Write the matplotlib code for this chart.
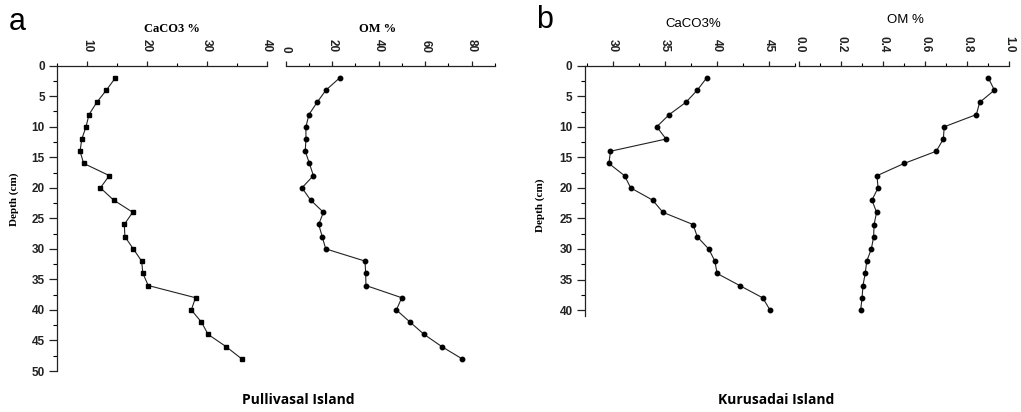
import numpy as np
import matplotlib
matplotlib.use("Agg")
import matplotlib.pyplot as plt
from matplotlib.ticker import MultipleLocator

# depth profiles
depth_a=[2,4,6,8,10,12,14,16,18,20,22,24,26,28,30,32,34,36,38,40,42,44,46,48]
caco3_a=[14.7,13.2,11.6,10.3,9.8,9.1,8.8,9.4,13.7,12.2,14.4,17.6,16.2,16.3,17.7,19.1,19.3,20.2,28.1,27.4,29.1,30.2,33.2,35.8]
om_a=[23.2,17.3,13.5,10.0,8.7,8.7,8.4,10.2,11.9,7.0,10.7,16.2,14.2,15.7,17.2,34.1,34.4,34.5,49.9,47.6,53.5,59.5,67.1,75.8]

depth_b=[2,4,6,8,10,12,14,16,18,20,22,24,26,28,30,32,34,36,38,40]
caco3_b=[39.0,38.1,37.0,35.4,34.2,35.1,29.75,29.6,31.1,31.7,33.8,34.8,37.7,38.1,39.2,39.8,40.0,42.2,44.4,45.1]
om_b=[0.90,0.929,0.859,0.843,0.690,0.686,0.652,0.499,0.370,0.375,0.346,0.368,0.356,0.354,0.343,0.321,0.314,0.303,0.299,0.292]

W,H=1021,412
fig=plt.figure(figsize=(W/100,H/100),dpi=100)
INK="#222222"

def px_axes(x0,x1,y0,y1):
    # pixel box -> figure fraction
    return fig.add_axes([x0/W,1-y1/H,(x1-x0)/W,(y1-y0)/H])

def profile(ax,x,y,xlim,ylim,xmaj,xmin,marker,show_y,fmt=None):
    ax.plot(x,y,color=INK,lw=0.8,marker=marker,ms=3.2,mfc="black",mec="black")
    ax.set_xlim(*xlim)
    ax.set_ylim(ylim,0)
    ax.xaxis.tick_top()
    ax.xaxis.set_major_locator(MultipleLocator(xmaj))
    ax.xaxis.set_minor_locator(MultipleLocator(xmin))
    if fmt:
        ax.xaxis.set_major_formatter(matplotlib.ticker.FormatStrFormatter(fmt))
    ax.tick_params(axis="x",which="major",direction="out",length=3.5,width=0.9,pad=6,
                   labelrotation=-90,labelsize=8.5,colors=INK)
    ax.tick_params(axis="x",which="minor",direction="out",length=2,width=0.8)
    for s in ["right","bottom"]:
        ax.spines[s].set_visible(False)
    ax.spines["top"].set_color(INK)
    ax.spines["top"].set_linewidth(0.9)
    for lab in ax.get_xticklabels():
        lab.set_fontfamily("Liberation Sans")
        lab.set_fontweight("bold")
    if show_y:
        ax.spines["left"].set_color(INK)
        ax.spines["left"].set_linewidth(0.9)
        ax.yaxis.set_major_locator(MultipleLocator(5))
        ax.yaxis.set_minor_locator(MultipleLocator(2.5))
        ax.tick_params(axis="y",which="major",direction="out",length=6,width=0.9,pad=3,
                       labelsize=8.5,colors=INK)
        ax.tick_params(axis="y",which="minor",direction="out",length=3,width=0.8)
        for lab in ax.get_yticklabels():
            lab.set_fontfamily("Liberation Sans")
            lab.set_fontweight("bold")
    else:
        ax.spines["left"].set_visible(False)
        ax.tick_params(axis="y",which="both",left=False,labelleft=False)
    ax.patch.set_alpha(0)

# panel a
ax1=px_axes(57.3,266.7,65.7,371)
profile(ax1,caco3_a,depth_a,(5,40),50,10,5,"s",True)
ax2=px_axes(285.7,495,65.7,371)
profile(ax2,om_a,depth_a,(0,90),50,20,10,"o",False)

# panel b
ax3=px_axes(585,795,65.7,316.2)
profile(ax3,caco3_b,depth_b,(27.3,47.5),41,5,2.5,"o",True)
ax4=px_axes(799.3,1009.3,65.7,316.2)
profile(ax4,om_b,depth_b,(0,1.0),41,0.2,0.1,"o",False,fmt="%.1f")

def txt(x,y,s,**kw):
    fig.text(x/W,1-y/H,s,ha="center",va="center",**kw)

txt(17,22,"a",fontsize=22,family="Liberation Sans")
txt(545,20,"b",fontsize=22,family="Liberation Sans")

txt(172,29,"CaCO3 %",fontsize=9,fontweight="bold",family="Liberation Serif")
txt(378,29,"OM %",fontsize=9,fontweight="bold",family="Liberation Serif")
txt(693,24,"CaCO3%",fontsize=9.5,family="Liberation Sans")
txt(905,20,"OM %",fontsize=9.5,family="Liberation Sans")

txt(14,199,"Depth (cm)",fontsize=8,fontweight="bold",family="Liberation Serif",rotation=90)
txt(540,205,"Depth (cm)",fontsize=8,fontweight="bold",family="Liberation Serif",rotation=90)

txt(298,400,"Pullivasal Island",fontsize=10,fontweight="bold",family="Open Sans")
txt(776,400,"Kurusadai Island",fontsize=10,fontweight="bold",family="Open Sans")

fig.savefig("out.png",dpi=100)
